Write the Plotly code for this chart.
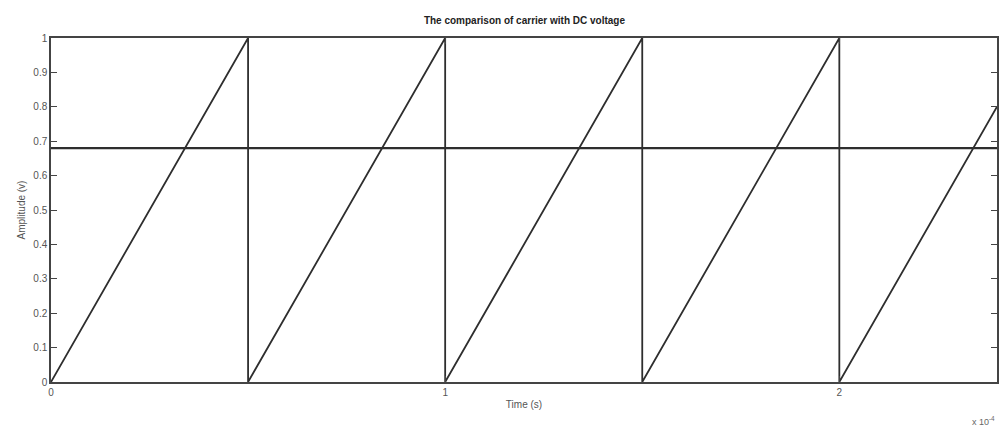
import plotly.graph_objects as go

# Sawtooth carrier (corners of each ramp) and the DC reference level
carrier_time = [0.0, 0.5e-4, 0.5e-4, 1.0e-4, 1.0e-4, 1.5e-4, 1.5e-4, 2.0e-4, 2.0e-4, 2.4e-4]
carrier_amp = [0.0, 1.0, 0.0, 1.0, 0.0, 1.0, 0.0, 1.0, 0.0, 0.8]
dc_time = [0.0, 2.4e-4]
dc_amp = [0.68, 0.68]

x_tick_vals = [0.0, 1e-4, 2e-4]
x_tick_text = ["0", "1", "2"]
y_tick_vals = [0, 0.1, 0.2, 0.3, 0.4, 0.5, 0.6, 0.7, 0.8, 0.9, 1]
y_tick_text = ["0", "0.1", "0.2", "0.3", "0.4", "0.5", "0.6", "0.7", "0.8", "0.9", "1"]

line_color = "#2e2e2e"
font_family = "Liberation Sans, Arial, sans-serif"

fig = go.Figure()
fig.add_trace(go.Scatter(x=carrier_time, y=carrier_amp, mode="lines",
                         line=dict(color=line_color, width=1.8), showlegend=False))
fig.add_trace(go.Scatter(x=dc_time, y=dc_amp, mode="lines",
                         line=dict(color=line_color, width=2.2), showlegend=False))

axis_common = dict(showgrid=False, zeroline=False, showline=True, linecolor="#444",
                   linewidth=1.5, mirror="ticks", ticks="inside", ticklen=6,
                   tickcolor="#444", tickfont=dict(family=font_family, size=10, color="#555"))

fig.update_xaxes(range=[0, 2.4e-4], tickvals=x_tick_vals, ticktext=x_tick_text,
                 title=dict(text="Time (s)", font=dict(family=font_family, size=10, color="#555"),
                            standoff=4),
                 **axis_common)
fig.update_yaxes(range=[0, 1], tickvals=y_tick_vals, ticktext=y_tick_text,
                 title=dict(text="Amplitude (v)", font=dict(family=font_family, size=10, color="#555"),
                            standoff=6),
                 **axis_common)

fig.add_annotation(text="x 10<sup>-4</sup>", xref="paper", yref="paper", x=1.0, y=-0.09,
                   xanchor="right", yanchor="top", showarrow=False,
                   font=dict(family=font_family, size=9, color="#666"))

fig.update_layout(
    width=999, height=426,
    margin=dict(l=51, r=0, t=38, b=44),
    paper_bgcolor="white", plot_bgcolor="white",
    title=dict(text="<b>The comparison of carrier with DC voltage</b>",
               x=0.525, xanchor="center", y=0.952, yanchor="middle",
               font=dict(family=font_family, size=10, color="#222")),
)

fig.write_html("out.html")
